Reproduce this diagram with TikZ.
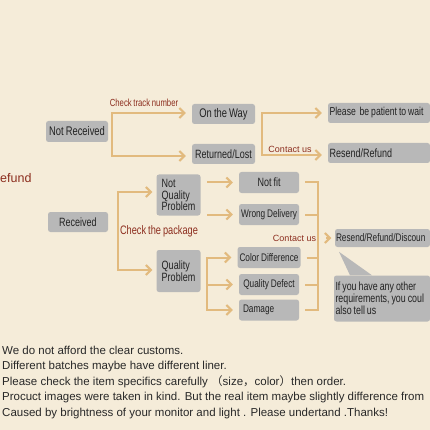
\documentclass[tikz,border=0pt]{standalone}
\usepackage{fontspec}
\setmainfont{Liberation Sans}
\newfontfamily\narrowsans[FakeStretch=0.75,WordSpace=0.8]{Liberation Sans}
\newfontfamily\cjk{Noto Sans CJK SC}
\usetikzlibrary{arrows.meta}
\definecolor{paper}{RGB}{245,236,217}
\definecolor{boxgray}{RGB}{184,184,184}
\definecolor{boxtext}{RGB}{34,34,34}
\definecolor{tan}{RGB}{226,186,126}
\definecolor{rust}{RGB}{140,45,30}
\definecolor{notegray}{RGB}{40,40,40}

\begin{document}
\begin{tikzpicture}[x=1pt,y=-1pt,
  box/.style={fill=boxgray,rounded corners=2.5pt,inner sep=2pt,align=center,text=boxtext,
    font=\narrowsans\fontsize{12.5}{12}\selectfont,execute at begin node=\spaceskip0pt\xspaceskip0pt},
  sbox/.style={box,minimum width=60pt,minimum height=21pt,font=\narrowsans\fontsize{11}{11}\selectfont},
  wbox/.style={box,minimum width=102pt,minimum height=20pt,text width=99pt,inner xsep=1.5pt,align=left,
    font=\narrowsans\fontsize{11.5}{11}\selectfont},
  lab/.style={text=rust,inner sep=0pt,font=\narrowsans\fontsize{10.3}{10}\selectfont},
  tie/.style={draw=tan,line width=2pt},
  arr/.style={tie,-{Straight Barb[length=5pt,width=10pt]},shorten >=6pt},
  barb/.style={tie,{Straight Barb[length=5pt,width=10pt]}-{Straight Barb[length=5pt,width=10pt]},
    shorten <=6pt,shorten >=6pt}]
\fill[paper] (0,0) rectangle (430,430);
\useasboundingbox (0,0) rectangle (430,430);
\node[box,minimum width=62pt,minimum height=21pt] (nrec) at (77,131.5) {Not Received};
\node[box,minimum width=63pt,minimum height=20pt] (otw) at (223.5,114) {On the Way};
\node[box,minimum width=63pt,minimum height=20pt,font=\narrowsans\fontsize{12}{12}\selectfont]
      (rl) at (223.5,154) {Returned/Lost};
\node[wbox] (wait) at (379,113) {Please\ \ be patient to wait};
\node[wbox,font=\narrowsans\fontsize{12}{12}\selectfont] (resend) at (379,153) {Resend/Refund};
\node[anchor=west,text=rust,inner sep=0pt,font=\fontsize{12.5}{12.5}\selectfont] (refund) at (0,178) {efund};
\node[box,minimum width=60pt,minimum height=20pt,font=\narrowsans\fontsize{12}{12}\selectfont]
      (rec) at (78,222) {Received};
\node[box,minimum width=44pt,minimum height=41pt,align=left,font=\narrowsans\fontsize{12}{11.5}\selectfont]
      (nqp) at (178.5,195) {Not\\Quality\\Problem};
\node[box,minimum width=44pt,minimum height=42pt,align=left,font=\narrowsans\fontsize{12}{11.5}\selectfont]
      (qp) at (178.5,271) {Quality\\Problem};
\node[sbox,font=\narrowsans\fontsize{12}{12}\selectfont] (notfit) at (269,182.5) {Not fit};
\node[sbox] (wrong) at (269,214.5) {Wrong Delivery};
\node[sbox] (color) at (269,257.5) {Color Difference};
\node[sbox] (defect) at (269,284.5) {Quality Defect};
\node[sbox,text width=52pt,align=left] (damage) at (269,310) {Damage};
\node[box,minimum width=95pt,minimum height=18pt,text width=93pt,inner xsep=1pt,align=left,
      font=\narrowsans\fontsize{11}{11}\selectfont] (disc) at (382.5,238) {Resend/Refund/Discoun};
\node[box,minimum width=96pt,minimum height=46pt,text width=93pt,inner xsep=1.5pt,align=left,
      font=\narrowsans\fontsize{11.8}{11.8}\selectfont] (tell) at (382,298.5)
      {If you have any other\\requirements, you coul\\also tell us};
\fill[boxgray] ([xshift=-32pt]tell.north) -- ([xshift=-43pt,yshift=23.5pt]tell.north)
      -- ([xshift=-10pt]tell.north) -- cycle;
\node[lab] (ctn) at (144,103) {Check track number};
\node[lab,font=\fontsize{9}{9}\selectfont] (cu1) at (290,149) {Contact us};
\node[lab,font=\narrowsans\fontsize{12.3}{12}\selectfont] (ctp) at (159,231) {Check the package};
\node[lab,font=\fontsize{9}{9}\selectfont] (cu2) at (294.5,238) {Contact us};
\coordinate (nrA) at (112,113);
\coordinate (nrB) at (112,156);
\coordinate (owA) at (262,113);
\coordinate (owB) at (262,155);
\coordinate (rcA) at (118,192);
\coordinate (rcB) at (118,270);
\coordinate (qpA) at (207,257.5);
\coordinate (qpB) at (207,310);
\coordinate (ctA) at (318,182.5);
\coordinate (ctB) at (318,310);
\draw[barb] (nrA -| otw.west) -- (nrA) -- (nrB) -- (nrB -| rl.west);
\draw[barb] (owA -| wait.west) -- (owA) -- (owB) -- (owB -| resend.west);
\draw[barb,shorten <=4pt,shorten >=4pt] (rcA -| nqp.west) -- (rcA) -- (rcB) -- (rcB -| qp.west);
\foreach \b in {notfit,wrong} \draw[arr,shorten <=6.5pt] (nqp.east |- \b.west) -- (\b.west);
\draw[barb] (qpA -| color.west) -- (qpA) -- (qpB) -- (qpB -| damage.west);
\draw[arr] (qpA |- defect.west) -- (defect.west);
\draw[tie] ([xshift=6pt]notfit.east) -- (ctA) -- (ctB) -- ([xshift=6pt]damage.east);
\foreach \b in {wrong,color,defect} \draw[tie] ([xshift=6pt]\b.east) -- (ctA |- \b.east);
\draw[arr,shorten <=8pt,shorten >=3.5pt] (ctA |- disc.west) -- (disc.west);
\node[anchor=north west,align=left,inner sep=0pt,text=notegray,font=\fontsize{11.5}{15.6}\selectfont]
      (notes) at (2,345.5) {We do not afford the clear customs.\\
      Different batches maybe have different liner.\\
      Please check the item specifics carefully {\cjk （}size{\cjk ，}color{\cjk ）}then order.\\
      Procuct images were taken in kind. But the real item maybe slightly difference from\\
      Caused by brightness of your monitor and light . Please undertand .Thanks!};
\end{tikzpicture}
\end{document}
